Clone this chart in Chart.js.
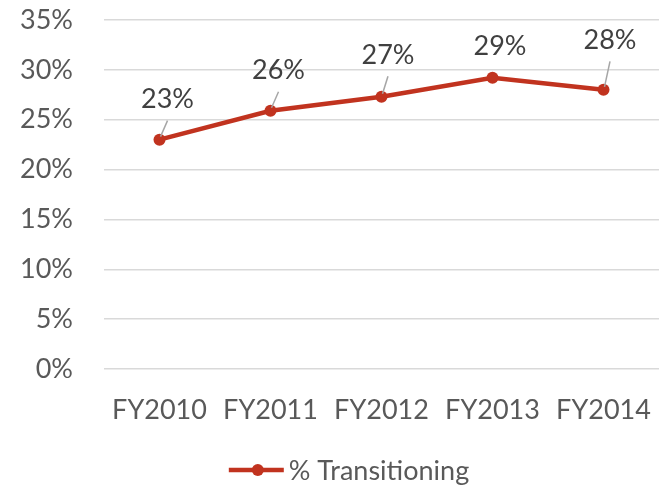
<!DOCTYPE html>
<html>
<head>
<meta charset="utf-8">
<script src="https://cdn.jsdelivr.net/npm/chart.js@4"></script>
<style>
  html, body { margin: 0; padding: 0; background: #fff; }
  #wrap { width: 665px; height: 486px; }
</style>
</head>
<body>
<div id="wrap"><canvas id="grafico" width="665" height="486"></canvas></div>
<script>
const anos = ["FY2010", "FY2011", "FY2012", "FY2013", "FY2014"];
const transicao = [23.0, 25.9, 27.3, 29.2, 28.0];
const rotulos = ["23%", "26%", "27%", "29%", "28%"];
const marcasY = [0, 5, 10, 15, 20, 25, 30, 35];

const vermelho = "#C1331F";
const fonte = "Lato";

// deslocamento de cada rotulo em relacao ao ponto
const desloc = [[8, -41], [8, -41], [6.5, -42.5], [7.5, -33], [6.5, -50.5]];

const rotuloPlugin = {
    id: "rotulos",
    afterDatasetsDraw(chart) {
        const ctx = chart.ctx;
        const meta = chart.getDatasetMeta(0);
        ctx.save();
        ctx.font = "27px " + fonte;
        ctx.textAlign = "center";
        ctx.textBaseline = "alphabetic";
        meta.data.forEach((pt, i) => {
            const lx = pt.x + desloc[i][0];
            const ly = pt.y + desloc[i][1];
            const topo = ly + 22;
            if (pt.y - 3 - topo > 10) {
                ctx.strokeStyle = "#A6A6A6";
                ctx.lineWidth = 1.5;
                ctx.beginPath();
                ctx.moveTo(pt.x + 1, pt.y - 3);
                ctx.lineTo(lx, topo);
                ctx.stroke();
            }
            ctx.fillStyle = "#404040";
            ctx.fillText(rotulos[i], lx, ly + 9.7);
        });
        ctx.restore();
    }
};

// legenda desenhada a mao (linha + bolinha + texto)
const legendaPlugin = {
    id: "legendaLinha",
    afterDraw(chart) {
        const ctx = chart.ctx;
        const ds = chart.data.datasets[0];
        ctx.save();
        ctx.font = "27px " + fonte;
        const tw = ctx.measureText(ds.label).width;
        const total = 55 + 5 + tw;
        const x0 = 349 - total / 2;
        const yc = 470;
        ctx.strokeStyle = ds.borderColor;
        ctx.lineWidth = 4.5;
        ctx.beginPath(); ctx.moveTo(x0, yc); ctx.lineTo(x0 + 55, yc); ctx.stroke();
        ctx.fillStyle = ds.borderColor;
        ctx.beginPath(); ctx.arc(x0 + 29, yc, 6, 0, Math.PI * 2); ctx.fill();
        ctx.fillStyle = "#595959";
        ctx.textBaseline = "alphabetic";
        ctx.fillText(ds.label, x0 + 60, yc + 9.7);
        ctx.restore();
    }
};

const conf = {
    type: "line",
    data: {
        labels: anos,
        datasets: [{
            label: "% Transitioning",
            data: transicao,
            borderColor: vermelho,
            backgroundColor: vermelho,
            borderWidth: 4.5,
            pointRadius: 6,
            pointBackgroundColor: vermelho,
            pointBorderWidth: 0,
            tension: 0
        }]
    },
    options: {
        responsive: false,
        animation: false,
        layout: { padding: { top: 20, right: 3, left: 0, bottom: 35 } },
        scales: {
            x: {
                offset: true,
                afterFit(s) { s.height = 82; s.paddingLeft = 0; s.paddingRight = 0; },
                grid: { display: false, drawTicks: false },
                border: { display: false },
                ticks: { color: "#595959", font: { family: fonte, size: 27 }, padding: 25, maxRotation: 0 }
            },
            y: {
                min: 0,
                max: 35,
                afterFit(s) { s.width = 104; s.paddingTop = 0; s.paddingBottom = 0; },
                afterBuildTicks(s) { s.ticks = marcasY.map(v => ({ value: v })); },
                grid: { color: "#D9D9D9", lineWidth: 1.5, drawTicks: false },
                border: { display: false },
                ticks: {
                    color: "#595959",
                    font: { family: fonte, size: 27 },
                    padding: 31,
                    callback: v => v + "%"
                }
            }
        },
        plugins: {
            legend: { display: false },
            tooltip: { enabled: false }
        }
    },
    plugins: [rotuloPlugin, legendaPlugin]
};

new Chart(document.getElementById("grafico"), conf);
</script>
</body>
</html>
